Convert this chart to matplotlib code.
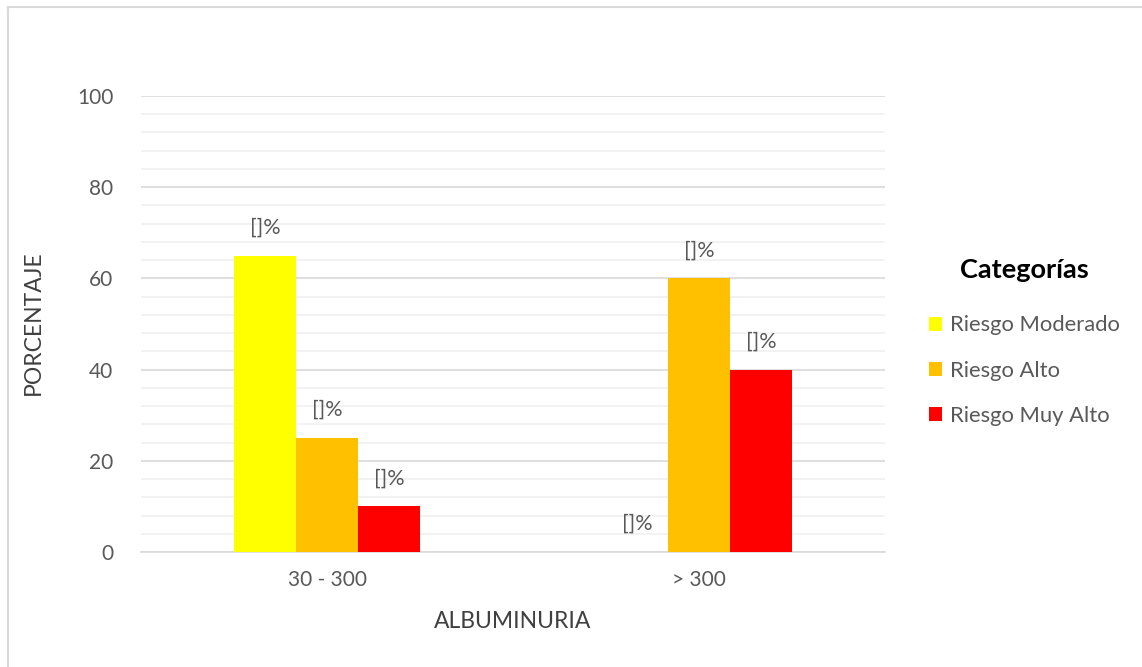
import matplotlib
matplotlib.use("Agg")
import matplotlib.pyplot as plt
from matplotlib.patches import Patch
from matplotlib.lines import Line2D
import numpy as np

plt.rcParams['font.family'] = ['Lato', 'DejaVu Sans']

categories = ["30 - 300", "> 300"]
series_names = ["Riesgo Moderado", "Riesgo Alto", "Riesgo Muy Alto"]
series_values = {
    "Riesgo Moderado": [65, 0],
    "Riesgo Alto": [25, 60],
    "Riesgo Muy Alto": [10, 40],
}
series_colors = ["#FFFF00", "#FFC000", "#FF0000"]
bar_labels = "[]%"
y_ticks = [0, 20, 40, 60, 80, 100]

W, H = 1142, 667
fig = plt.figure(figsize=(W / 100, H / 100), dpi=100)

# Outer chart border (light grey frame)
fig.add_artist(Line2D([8 / W, 8 / W], [0, 1 - 6.5 / H], transform=fig.transFigure,
                      color="#D9D9D9", lw=1.5))
fig.add_artist(Line2D([8 / W, 1], [1 - 6.5 / H, 1 - 6.5 / H], transform=fig.transFigure,
                      color="#D9D9D9", lw=1.5))

ax = fig.add_axes([141 / W, (H - 552) / H, (885 - 141) / W, (552 - 96) / H])

x = np.arange(len(categories))
bar_w = 0.5 / 3
text_color = "#595959"
for i, (name, col) in enumerate(zip(series_names, series_colors)):
    vals = series_values[name]
    pos = x + (i - 1) * bar_w
    ax.bar(pos, vals, width=bar_w, color=col, zorder=3, label=name)
    for p, v in zip(pos, vals):
        ax.annotate(bar_labels, (p, v), xytext=(0, 13), textcoords="offset points",
                    ha="center", va="bottom", fontsize=15.5, color=text_color)

ax.set_xlim(-0.5, 1.5)
ax.set_ylim(0, 100)
ax.set_yticks(y_ticks)
ax.set_yticks(np.arange(0, 101, 4), minor=True)
ax.grid(axis="y", which="major", color="#D9D9D9", lw=1.2, zorder=0)
ax.grid(axis="y", which="minor", color="#F0F0F0", lw=1.2, zorder=0)
ax.tick_params(axis="y", which="both", length=0, labelsize=15, labelcolor=text_color, pad=20)
ax.set_xticks(x)
ax.set_xticklabels(categories)
ax.tick_params(axis="x", length=0, labelsize=15, labelcolor=text_color, pad=13)
for s in ["top", "right", "left"]:
    ax.spines[s].set_visible(False)
ax.spines["bottom"].set_color("#D9D9D9")
ax.spines["bottom"].set_linewidth(1.2)

fig.text(33 / W, 1 - 323 / H, "PORCENTAJE", rotation=90, ha="center", va="center",
         fontsize=16.5, color="#404040")
fig.text(513 / W, 1 - 622 / H, "ALBUMINURIA", ha="center", va="center",
         fontsize=16.5, color="#404040")

handles = [Patch(facecolor=c, label=n) for n, c in zip(series_names, series_colors)]
leg = fig.legend(handles=handles, loc="upper left", bbox_to_anchor=(918 / W, 1 - 247 / H),
                 frameon=False, fontsize=15.8, title="Categorías",
                 title_fontproperties={"size": 19.5, "weight": "bold"},
                 handlelength=0.6, handleheight=0.6, handletextpad=0.35,
                 labelspacing=1.15, borderpad=0)
for t in leg.get_texts():
    t.set_color(text_color)
leg._legend_box.sep = 24

fig.savefig("out.png", dpi=100, facecolor="white")
